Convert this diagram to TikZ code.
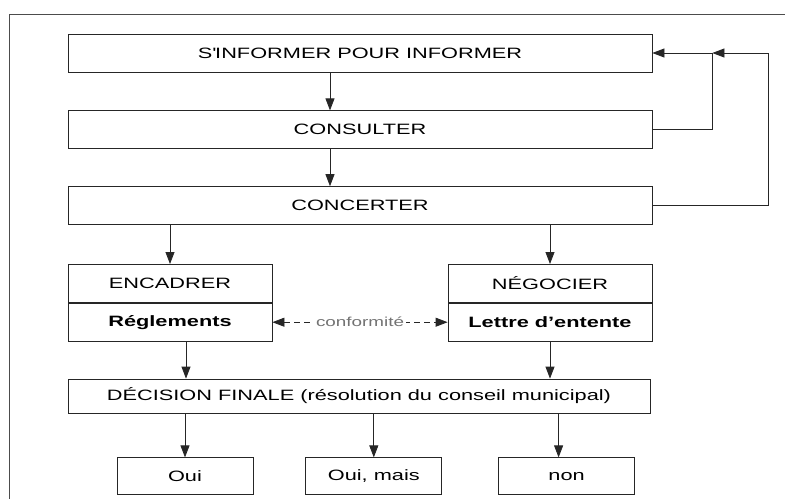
\documentclass[tikz,border=0pt]{standalone}
\usepackage{fontspec}
\setmainfont{Liberation Sans}[FakeStretch=1.45]
\usetikzlibrary{arrows.meta,positioning}

\begin{document}
\begin{tikzpicture}[
        x=1pt, y=1pt,
        node distance=38pt,
        etape/.style={rectangle, draw=black!85, line width=0.8pt, minimum width=584pt, minimum height=38pt, inner sep=0pt, align=center, font=\fontsize{15pt}{18pt}\selectfont},
        volet/.style={etape, minimum width=204pt},
        texte/.style={volet, font=\fontsize{15pt}{18pt}\selectfont\bfseries},
        issue/.style={etape, minimum width=136pt, minimum height=37pt},
        arrow/.style={line width=0.8pt, draw=black!85, ->, >={Stealth[length=12pt, width=9pt, inset=0pt]}},
    ]
    \useasboundingbox (0,0) rectangle (785,-499);

    % Cadre
    \draw[line width=0.8pt, black!70] (785,-14) -- (9,-14) -- (9,-499);

    % Etapes principales
    \node[etape] (informer) at (360,-53) {S\textquotesingle INFORMER POUR INFORMER};
    \node[etape, below=38pt of informer] (consulter) {CONSULTER};
    \node[etape, below=37pt of consulter] (concerter) {CONCERTER};

    % Deux voies
    \node[volet, below=39pt of concerter.south west, anchor=north west] (encadrer) {ENCADRER};
    \node[texte, below=0pt of encadrer] (reglements) {Réglements};
    \node[volet, below=39pt of concerter.south east, anchor=north east] (negocier) {NÉGOCIER};
    \node[texte, below=0pt of negocier] (lettre) {Lettre d’entente};

    % Decision et issues
    \node[etape, minimum width=582pt, minimum height=34pt, below=37pt of reglements.south west, anchor=north west] (decision) {DÉCISION FINALE (résolution du conseil municipal)};
    \node[issue, below=44pt of decision.south west, anchor=north west, xshift=49pt] (oui) {Oui};
    \node[issue, right=52pt of oui] (ouimais) {Oui, mais};
    \node[issue, right=56pt of ouimais] (non) {non};

    % Fleches principales
    \draw[arrow] ([xshift=-30pt]informer.south) -- ([xshift=-30pt]consulter.north);
    \draw[arrow] ([xshift=-30pt]consulter.south) -- ([xshift=-30pt]concerter.north);
    \draw[arrow] (concerter.south -| encadrer.north) -- (encadrer.north);
    \draw[arrow] (concerter.south -| negocier.north) -- (negocier.north);
    \draw[arrow] ([xshift=16pt]reglements.south) -- ([xshift=16pt]reglements.south |- decision.north);
    \draw[arrow] (lettre.south) -- (lettre.south |- decision.north);
    \draw[arrow] (decision.south -| oui.north) -- (oui.north);
    \draw[arrow] (decision.south -| ouimais.north) -- (ouimais.north);
    \draw[arrow] ([xshift=-8pt]decision.south -| non.north) -- ([xshift=-8pt]non.north);

    % Conformite
    \draw[arrow, <->, dash pattern=on 6pt off 4pt] (reglements.east) -- node[fill=white, text=black!55, inner sep=2pt, font=\fontsize{13pt}{15pt}\selectfont] {conformité} (lettre.west);

    % Retours
    \coordinate[right=60pt of informer.east] (retour);
    \draw[arrow] (consulter.east) -| (retour) -- (informer.east);
    \draw[arrow] (concerter.east) -- ++(116pt,0) |- (retour);

\end{tikzpicture}
\end{document}
